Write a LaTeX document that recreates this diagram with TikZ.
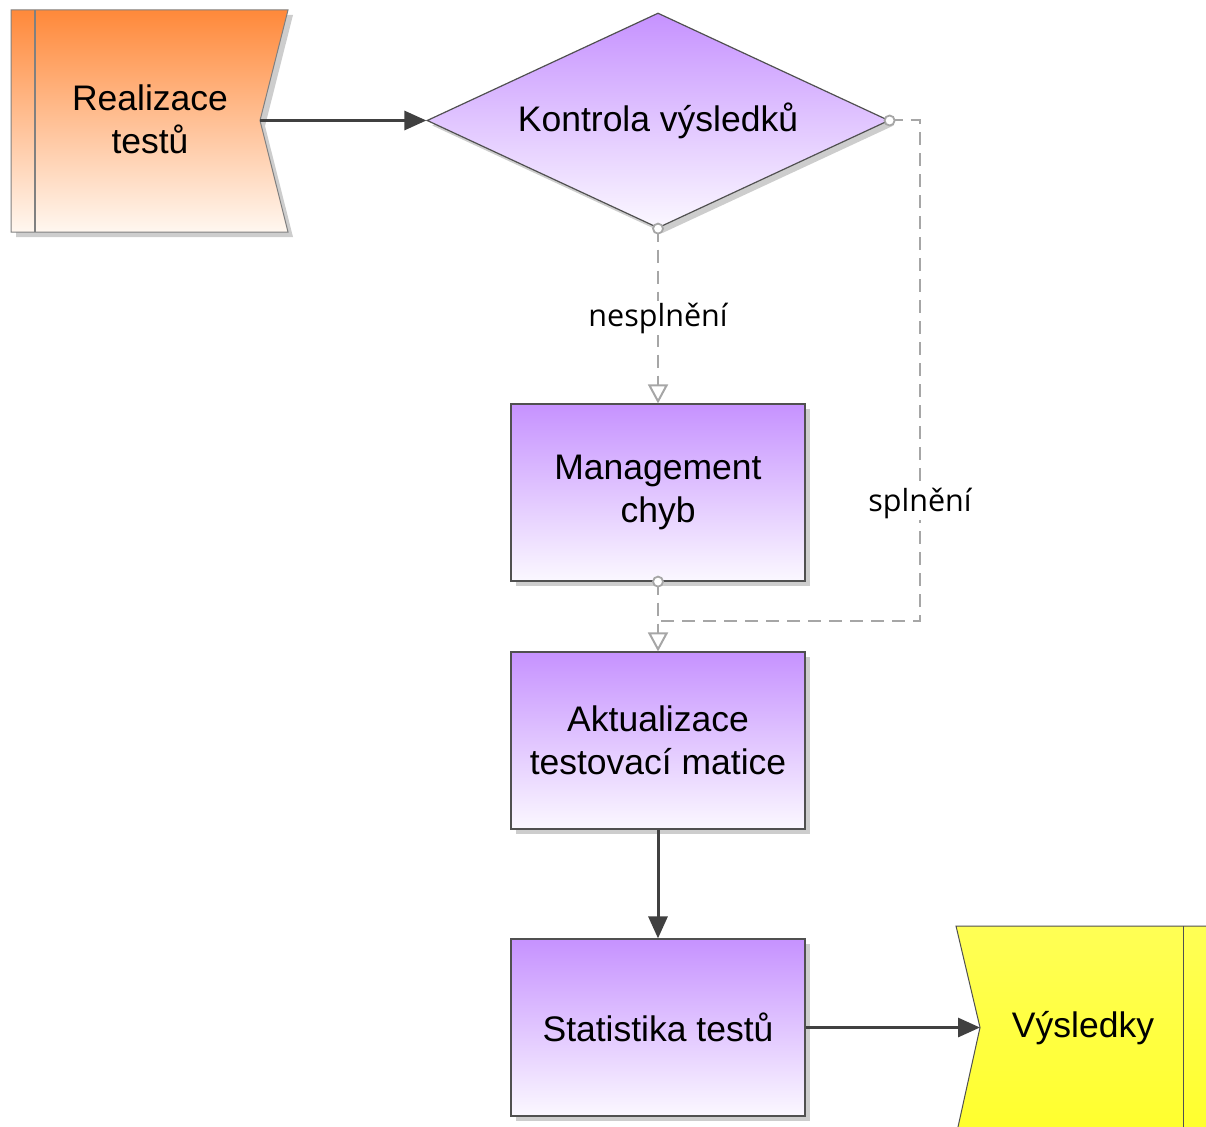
\documentclass[tikz,border=0pt]{standalone}
\usepackage{fontspec}
\setmainfont{Liberation Sans}
\newfontfamily\lblfont{Open Sans}
\usetikzlibrary{arrows.meta,shapes.geometric,shadows}

\definecolor{purpTop}{RGB}{198,146,255}
\definecolor{purpBot}{RGB}{251,248,255}
\definecolor{orTop}{RGB}{255,137,58}
\definecolor{orBot}{RGB}{255,247,240}
\definecolor{yelTop}{RGB}{255,255,85}
\definecolor{yelBot}{RGB}{255,255,45}
\definecolor{edgeDark}{RGB}{64,64,64}
\definecolor{edgeGray}{RGB}{166,166,166}
\definecolor{boxLine}{RGB}{80,80,80}
\definecolor{shadowGray}{RGB}{205,205,205}

\tikzset{
  maintext/.style={font=\fontsize{35.5}{43}\selectfont, align=center, text=black},
  func/.style={draw=boxLine, line width=1.2pt, top color=purpTop, bottom color=purpBot,
    minimum width=294pt, minimum height=177pt, inner sep=0pt, maintext,
    drop shadow={shadow xshift=5pt, shadow yshift=-5pt, fill=shadowGray, opacity=1}},
  decide/.style={func, shape=diamond, aspect=2.15, minimum width=462pt, minimum height=215pt},
  flow/.style={draw=edgeDark, line width=3pt, -{Triangle[length=22pt,width=19pt]}},
  altflow/.style={draw=edgeGray, line width=2pt, dash pattern=on 13pt off 8pt,
    -{Triangle[open,length=19pt,width=20pt,line width=2pt]}},
  altline/.style={draw=edgeGray, line width=2pt, dash pattern=on 13pt off 8pt},
  ring/.style={draw=edgeGray, fill=white, line width=1.8pt},
  edgelabel/.style={font=\lblfont\fontsize{30.5}{36}\selectfont, fill=white, inner sep=2pt}
}

\begin{document}
\begin{tikzpicture}[x=1pt, y=-1pt]
\useasboundingbox (0,0) rectangle (1206,1126);

% start event (orange, notched on the right)
\fill[shadowGray] (16,15) -- (293,15) -- (265,126) -- (293,237) -- (16,237) -- cycle;
\shade[top color=orTop, bottom color=orBot, draw=gray, line width=1pt]
  (11,10) -- (288,10) -- (260,120.5) -- (288,232) -- (11,232) -- cycle;
\draw[gray, line width=1.2pt] (35,10) -- (35,232);
\node[maintext] (real) at (150,119) {Realizace\\testů};
\coordinate (realOut) at (260,120.5);

% end event (yellow, notched on the left)
\shade[top color=yelTop, bottom color=yelBot, draw=boxLine, line width=1pt]
  (1215,926) -- (956,926) -- (980,1027.5) -- (956,1136) -- (1215,1136);
\draw[boxLine, line width=1pt] (1183,926) -- (1183,1136);
\node[maintext] (vys) at (1083,1028.5) {Výsledky};
\coordinate (vysIn) at (980,1027.5);

% decision and functions
\node[decide] (kon) at (658,120.5) {Kontrola výsledků};
\node[func] (man) at (658,492.5) {Management\\chyb};
\node[func] (akt) at (658,740.5) {Aktualizace\\testovací matice};
\node[func] (sta) at (658,1027.5) {Statistika testů};

% solid control flow
\draw[flow] (realOut) -- (kon.west);
\draw[flow] (akt.south) -- (sta.north);
\draw[flow] (sta.east) -- (vysIn);

% conditional branches
\coordinate (sCorner) at (920,621);
\draw[altflow] (kon.south) -- node[edgelabel, pos=0.5, yshift=-2pt] (nes) {nesplnění} (man.north);
\draw[altline] (kon.east) -| (sCorner) -- (sCorner -| akt.north);
\node[edgelabel] (spl) at (920,503) {splnění};
\draw[altflow] (man.south) -- (akt.north);

% connection rings at branch origins
\draw[ring] (kon.south) circle[radius=5pt];
\draw[ring] (kon.east) circle[radius=5pt];
\draw[ring] (man.south) circle[radius=5pt];
\end{tikzpicture}
\end{document}
